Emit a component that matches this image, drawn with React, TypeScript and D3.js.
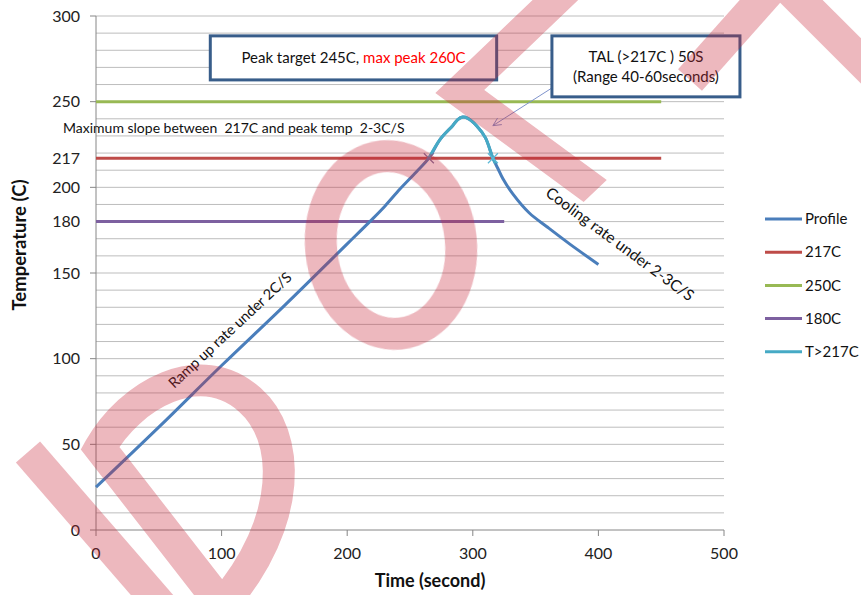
import React from "react";
import * as d3 from "d3";

const profileTime = [0, 50, 100, 150, 200, 218, 230, 242, 255, 265, 274, 284, 288, 292, 296, 303, 310, 316, 320, 324, 332, 345, 359, 377, 400];
const profileTemp = [25, 60, 96, 131, 167, 180, 189, 199, 209, 217, 228, 236, 239.5, 241, 240.3, 236, 229, 217, 211, 205, 196, 185, 177, 167, 155];
const talTime = [265, 274, 284, 288, 292, 296, 303, 310, 316, 318];
const talTemp = [217, 228, 236, 239.5, 241, 240.3, 236, 229, 217, 214];
const refValues = [217, 250, 180];
const refEnds = [450, 450, 325];
const yTickLabels = [0, 50, 100, 150, 180, 200, 217, 250, 300];
const xTickLabels = [0, 100, 200, 300, 400, 500];
const legendNames = ["Profile", "217C", "250C", "180C", "T>217C"];
const legendColors = ["#4A7EBB", "#BE4B48", "#98B954", "#7D60A0", "#46AAC5"];

const W = 861, H = 595;
const FONT = "Lato, 'Open Sans', sans-serif";

export default function App() {
  const x = d3.scaleLinear().domain([0, 500]).range([96, 724]);
  const y = d3.scaleLinear().domain([0, 300]).range([530, 16]);
  const line = d3.line<[number, number]>()
    .x((d) => x(d[0]))
    .y((d) => y(d[1]))
    .curve(d3.curveCatmullRom.alpha(0.5));
  const prof = profileTime.map((t, i) => [t, profileTemp[i]] as [number, number]);
  const tal = talTime.map((t, i) => [t, talTemp[i]] as [number, number]);
  const grid = d3.range(10, 301, 10);
  const majorTicks = d3.range(0, 301, 50);

  const cross = (t: number, v: number, color: string, key: string) => {
    const cx = x(t), cy = y(v), s = 5;
    return (
      <g key={key} stroke={color} strokeWidth={1.2}>
        <line x1={cx - s} y1={cy - s} x2={cx + s} y2={cy + s} />
        <line x1={cx - s} y1={cy + s} x2={cx + s} y2={cy - s} />
      </g>
    );
  };

  const arrowFrom: [number, number] = [363, 258];
  const arrowTo: [number, number] = [316, 236];
  const ax1 = x(arrowFrom[0]), ay1 = y(arrowFrom[1]);
  const ax2 = x(arrowTo[0]), ay2 = y(arrowTo[1]);
  const ang = Math.atan2(ay2 - ay1, ax2 - ax1);
  const ah = 9;
  const headA = [ax2 - ah * Math.cos(ang - 0.45), ay2 - ah * Math.sin(ang - 0.45)];
  const headB = [ax2 - ah * Math.cos(ang + 0.45), ay2 - ah * Math.sin(ang + 0.45)];

  return (
    <svg width={W} height={H} style={{ position: "absolute", left: 0, top: 0, background: "#fff" }} fontFamily={FONT}>
      <rect width={W} height={H} fill="#fff" />
      {grid.map((g) => (
        <line key={"g" + g} x1={x(0)} x2={x(500)} y1={y(g)} y2={y(g)} stroke="#BDBDBD" strokeWidth={1} />
      ))}
      <line x1={x(0)} x2={x(0)} y1={y(0)} y2={y(300)} stroke="#868686" strokeWidth={1} />
      <line x1={x(0)} x2={x(500)} y1={y(0)} y2={y(0)} stroke="#868686" strokeWidth={1} />
      {majorTicks.map((t) => (
        <line key={"yt" + t} x1={x(0) - 6} x2={x(0)} y1={y(t)} y2={y(t)} stroke="#868686" />
      ))}
      {xTickLabels.map((t) => (
        <line key={"xt" + t} x1={x(t)} x2={x(t)} y1={y(0)} y2={y(0) + 6} stroke="#868686" />
      ))}
      {yTickLabels.map((t) => (
        <text key={"yl" + t} x={80} y={y(t)} dy="0.35em" textAnchor="end" fontSize={16} fill="#222">{t}</text>
      ))}
      {xTickLabels.map((t) => (
        <text key={"xl" + t} x={x(t)} y={553} dy="0.35em" textAnchor="middle" fontSize={16} fill="#222">{t}</text>
      ))}
      <text x={430} y={581} dy="0.35em" textAnchor="middle" fontSize={18} fontWeight="bold" fill="#111">Time (second)</text>
      <text transform={`translate(20,245) rotate(-90)`} dy="0.35em" textAnchor="middle" fontSize={18.5} fontWeight="bold" fill="#111">Temperature (C)</text>

      {refValues.map((v, i) => (
        <line key={"r" + i} x1={x(0)} x2={x(refEnds[i])} y1={y(v)} y2={y(v)} stroke={legendColors[i + 1]} strokeWidth={3} />
      ))}
      <path d={line(prof) || ""} fill="none" stroke={legendColors[0]} strokeWidth={3} />
      <path d={line(tal) || ""} fill="none" stroke={legendColors[4]} strokeWidth={3} />
      {cross(talTime[0], talTemp[0], "#7A6F9B", "c1")}
      {cross(talTime[8], talTemp[8], "#5BB8D6", "c2")}

      <line x1={ax1} y1={ay1} x2={ax2} y2={ay2} stroke="#7F93CC" strokeWidth={1} />
      <polyline points={`${headA[0]},${headA[1]} ${ax2},${ay2} ${headB[0]},${headB[1]}`} fill="none" stroke="#7F93CC" strokeWidth={1} />

      <rect x={x(91)} y={y(288.4)} width={x(319) - x(91)} height={y(262.7) - y(288.4)} fill="#fff" stroke="#385D8A" strokeWidth={3} />
      <text x={(x(91) + x(319)) / 2} y={(y(288.4) + y(262.7)) / 2} dy="0.35em" textAnchor="middle" fontSize={15} fill="#111">
        Peak target 245C, <tspan fill="#FF0000">max peak 260C</tspan>
      </text>
      <rect x={x(363)} y={y(288.4)} width={x(512.7) - x(363)} height={y(252.8) - y(288.4)} fill="#fff" stroke="#385D8A" strokeWidth={3} />
      <text x={(x(363) + x(512.7)) / 2} y={57} dy="0.35em" textAnchor="middle" fontSize={15} fill="#111">TAL (&gt;217C ) 50S</text>
      <text x={(x(363) + x(512.7)) / 2} y={77} dy="0.35em" textAnchor="middle" fontSize={15} fill="#111">(Range 40-60seconds)</text>

      <text x={63} y={128} dy="0.35em" fontSize={14} fill="#111" style={{ whiteSpace: "pre" }}>{"Maximum slope between  217C and peak temp  2-3C/S"}</text>
      <text transform={`translate(230,330) rotate(-43)`} dy="0.35em" textAnchor="middle" fontSize={14.5} fill="#111">Ramp up rate under 2C/S</text>
      <text transform={`translate(620,244) rotate(36.5)`} dy="0.35em" textAnchor="middle" fontSize={15.5} fill="#111">Cooling rate under 2-3C/S</text>

      {legendNames.map((n, i) => (
        <g key={"lg" + i} transform={`translate(765,${219 + i * 33.2})`}>
          <line x1={0} x2={37} y1={0} y2={0} stroke={legendColors[i]} strokeWidth={3} />
          <text x={40} y={0} dy="0.35em" fontSize={15} fill="#111">{n}</text>
        </g>
      ))}

      {/* watermark (decorative, on top) */}
      <g opacity={0.33} fill="none" stroke="rgb(200,40,60)" strokeWidth={32} strokeLinejoin="miter">
        <path d="M222,605 L100,448 C130,395 200,355 250,400 C290,435 295,520 222,605" />
        <path d="M28,452 L165,610" />
        <g transform="matrix(0.723,-0.692,0.806,0.592,90,440)">
          <path d="M507,172 V4 H720" />
        </g>
        <ellipse cx={391} cy={245} rx={70} ry={89} transform="rotate(-6,391,245)" />
        <path d="M790,-10 L875,75" />
        <path d="M690,80 L770,-10" />
      </g>
    </svg>
  );
}
